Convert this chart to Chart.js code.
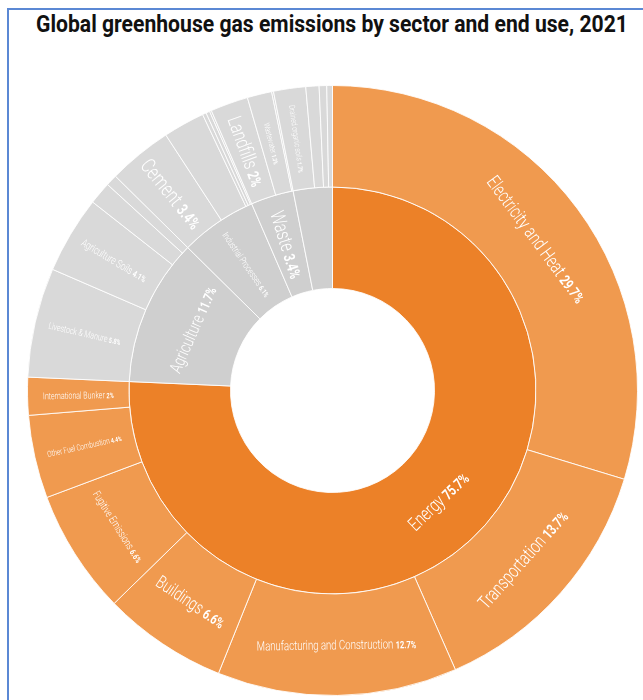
<!DOCTYPE html>
<html><head><meta charset="utf-8">
<script src="https://cdn.jsdelivr.net/npm/chart.js@4.4.1/dist/chart.umd.min.js"></script>
<style>
html,body{margin:0;padding:0;background:#fff;}
body{width:643px;height:700px;position:relative;overflow:hidden;font-family:Roboto,"Noto Sans",sans-serif;}
#frame{position:absolute;left:7px;top:8px;width:720px;height:760px;border-left:2px solid #5B88D4;border-top:2px solid #5B88D4;box-sizing:border-box;}
#title{position:absolute;left:36px;top:10px;white-space:nowrap;font-weight:700;font-size:23.5px;line-height:normal;color:#111;transform-origin:0 0;}
#wrap{position:absolute;left:27px;top:85px;width:611px;height:611px;}
</style></head><body>
<div id="frame"></div>
<div id="title">Global greenhouse gas emissions by sector and end use, 2021</div>
<div id="wrap"><canvas id="c" width="611" height="611"></canvas></div>
<script>
// ---- data ----
const sectorNames  = ['Energy','Agriculture','Industrial Processes','Waste','Land-Use Change and Forestry'];
const sectorValues = [75.7, 11.7, 6.1, 3.4, 3.1];

const subNames = [
  'Electricity and Heat','Transportation','Manufacturing and Construction','Buildings',
  'Fugitive Emissions','Other Fuel Combustion','International Bunker',
  'Livestock & Manure','Agriculture Soils','Rice Cultivation','Other Agriculture',
  'Cement','Chemicals','Other Industry A','Other Industry B','Other Industry C',
  'Landfills','Wastewater','Other Waste',
  'Drained organic soils','Fires','Forest Land','Other Land Use'
];
const subValues = [
  29.7, 13.7, 12.7, 6.6, 6.6, 4.4, 2,
  5.8, 4.1, 1.2, 0.6,
  3.4, 2.2, 0.2, 0.2, 0.1,
  2, 1.3, 0.1,
  1.7, 0.7, 0.4, 0.3
];
const subParent = [0,0,0,0,0,0,0, 1,1,1,1, 2,2,2,2,2, 3,3,3, 4,4,4,4];

// ---- styles ----
const innerColors = {energy:'#EC8128', other:'#CFCFCF'};
const outerColors = {energy:'#F09A4F', other:'#D9D9D9'};
const COND = 0.74;   // horizontal condensing of label font
const PCT = 0.78;    // percentage size relative to name
const labelStyle = {
  'Energy': {orient:'tan', size:19},
  'Agriculture': {orient:'tan', size:17.5},
  'Industrial Processes': {orient:'rad', size:9.5},
  'Waste': {orient:'rad', size:20},
  'Electricity and Heat': {orient:'tan', size:19},
  'Transportation': {orient:'tan', size:19},
  'Manufacturing and Construction': {orient:'tan', size:13},
  'Buildings': {orient:'tan', size:18},
  'Fugitive Emissions': {orient:'tan', size:11},
  'Other Fuel Combustion': {orient:'rad', size:8.5},
  'International Bunker': {orient:'rad', size:9.5},
  'Livestock & Manure': {orient:'rad', size:9.5},
  'Agriculture Soils': {orient:'rad', size:11},
  'Cement': {orient:'rad', size:21},
  'Landfills': {orient:'rad', size:20},
  'Wastewater': {orient:'rad', size:8},
  'Drained organic soils': {orient:'rad', size:8.3}
};
const ringNames = [subNames, sectorNames];

// title fit
(function(){
  const t = document.getElementById('title');
  const w = t.getBoundingClientRect().width;
  t.style.transform = 'scaleX(' + (592 / w) + ')';
})();

const labelPlugin = {
  id: 'sunLabels',
  afterDatasetsDraw(chart) {
    const ctx = chart.ctx;
    chart.data.datasets.forEach((ds, di) => {
      const meta = chart.getDatasetMeta(di);
      meta.data.forEach((arc, i) => {
        const name = ringNames[di][i];
        const st = labelStyle[name];
        if (!st) return;
        const p = arc.getProps(['x','y','startAngle','endAngle','innerRadius','outerRadius'], true);
        const mid = (p.startAngle + p.endAngle) / 2;
        const rc = (p.innerRadius + p.outerRadius) / 2;
        const cx = p.x + rc * Math.cos(mid), cy = p.y + rc * Math.sin(mid);
        let rot = st.orient === 'tan' ? mid + Math.PI / 2 : mid;
        if (Math.cos(rot) < -1e-6) rot += Math.PI;
        const nameFont = '300 ' + st.size + 'px Roboto';
        const pctFont = '700 ' + (st.size * PCT) + 'px Roboto';
        const pct = ds.data[i] + '%';
        ctx.save();
        ctx.translate(cx, cy);
        ctx.rotate(rot);
        ctx.scale(COND, 1);
        ctx.textAlign = 'left';
        ctx.textBaseline = 'alphabetic';
        ctx.font = nameFont;
        const nw = ctx.measureText(name + ' ').width;
        ctx.font = pctFont;
        const pw = ctx.measureText(pct).width;
        const x0 = -(nw + pw) / 2;
        const base = st.size * 0.71 / 2;
        ctx.fillStyle = '#ffffff';
        ctx.font = nameFont;
        ctx.fillText(name + ' ', x0, base);
        ctx.font = pctFont;
        ctx.fillText(pct, x0 + nw, base);
        ctx.restore();
      });
    });
  }
};

new Chart(document.getElementById('c'), {
  type: 'doughnut',
  data: {
    labels: subNames,
    datasets: [
      {
        data: subValues,
        backgroundColor: subParent.map(p => p === 0 ? outerColors.energy : outerColors.other),
        borderColor: 'rgba(255,255,255,0.85)',
        borderWidth: 1
      },
      {
        data: sectorValues,
        backgroundColor: sectorNames.map((n, i) => i === 0 ? innerColors.energy : innerColors.other),
        borderColor: 'rgba(255,255,255,0.85)',
        borderWidth: 1
      }
    ]
  },
  options: {
    responsive: false,
    animation: false,
    cutout: 102,
    layout: {padding: 0},
    hoverOffset: 0,
    plugins: {legend: {display: false}, tooltip: {enabled: false}, title: {display: false}}
  },
  plugins: [labelPlugin]
});
</script>
</body></html>
